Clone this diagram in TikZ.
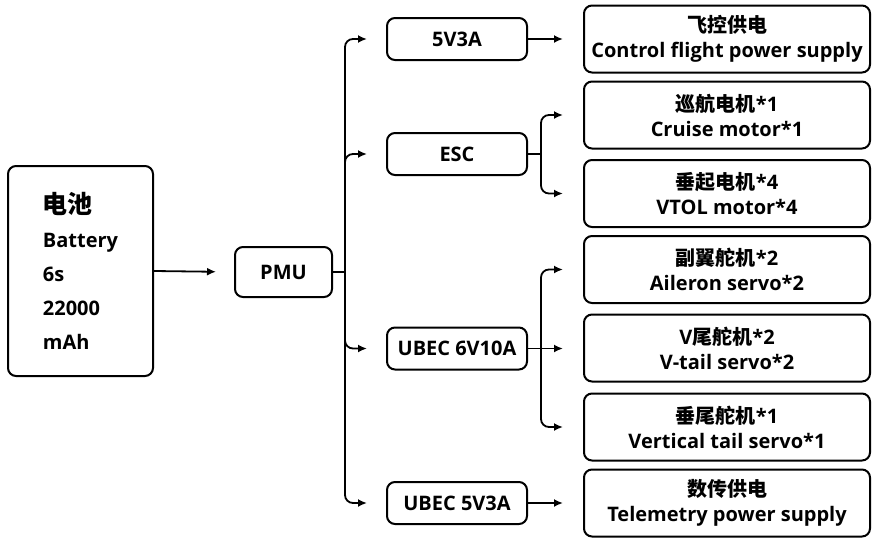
\documentclass[tikz,border=0pt]{standalone}
\usepackage{fontspec}
\setmainfont{Open Sans}
\newfontfamily\cjk{Noto Sans CJK SC}
\usetikzlibrary{arrows.meta}
\begin{document}
\begin{tikzpicture}[x=1pt,y=-1pt,
  box/.style={draw, line width=2pt, rounded corners=8pt, inner sep=0pt, align=center,
    font=\bfseries\fontsize{20}{25}\selectfont},
  midbox/.style={box, minimum width=140pt, minimum height=42pt},
  rbox/.style={box, minimum width=286pt, minimum height=67pt},
  conn/.style={line width=1.8pt},
  arr/.style={conn, -{Latex[length=9pt,width=8pt]}, rounded corners=8pt},
]
\useasboundingbox (0,0) rectangle (872,538);
% battery and PMU
\node[box, minimum width=145pt, minimum height=210pt, align=left,
  font=\bfseries\fontsize{20}{34}\selectfont] (bat) at (80.5,271)
  {{\cjk\fontsize{25}{34}\selectfont 电池}\\Battery\\6s\\22000\\mAh};
\node[box, minimum width=97pt, minimum height=50pt] (pmu) at (283.5,272) {PMU};
% middle boxes
\node[midbox] (m1) at (457,39) {5V3A};
\node[midbox] (m2) at (457,154) {ESC};
\node[midbox] (m3) at (457,348.5) {UBEC 6V10A};
\node[midbox] (m4) at (457,503) {UBEC 5V3A};
% right boxes
\node[rbox] (r1) at (727,39) {{\cjk 飞控供电}\\Control flight power supply};
\node[rbox] (r2) at (727,115) {{\cjk 巡航电机}*1\\Cruise motor*1};
\node[rbox] (r3) at (727,193.5) {{\cjk 垂起电机}*4\\VTOL motor*4};
\node[rbox] (r4) at (727,269.5) {{\cjk 副翼舵机}*2\\Aileron servo*2};
\node[rbox] (r5) at (727,348) {V{\cjk 尾舵机}*2\\V-tail servo*2};
\node[rbox] (r6) at (727,427) {{\cjk 垂尾舵机}*1\\Vertical tail servo*1};
\node[rbox] (r7) at (727,503) {{\cjk 数传供电}\\Telemetry power supply};
% junction points
\coordinate (t) at (345,272);
\coordinate (e) at (541,154);
\coordinate (u) at (541,348.5);
% connectors
\draw[arr, shorten >=18pt] (bat.east) -- (pmu.west);
\draw[conn] (pmu.east) -- (t);
\draw[arr, shorten >=19pt] (t) |- (m1.west);
\draw[arr, shorten >=19pt] (t) |- (m2.west);
\draw[arr, shorten >=19pt] (t) |- (m3.west);
\draw[arr, shorten >=19pt] (t) |- (m4.west);
\draw[arr, shorten >=20pt] (m1.east) -- (r1.west);
\draw[arr, shorten >=20pt] (m4.east) -- (r7.west);
\draw[conn] (m2.east) -- (e);
\draw[arr, shorten >=20pt] (e) |- (r2.west);
\draw[arr, shorten >=20pt] (e) |- (r3.west);
\draw[conn] (m3.east) -- (u);
\draw[arr, shorten >=20pt] (u) |- (r4.west);
\draw[arr, shorten >=20pt] (u) -- (u -| r5.west);
\draw[arr, shorten >=20pt] (u) |- (r6.west);
\end{tikzpicture}
\end{document}
